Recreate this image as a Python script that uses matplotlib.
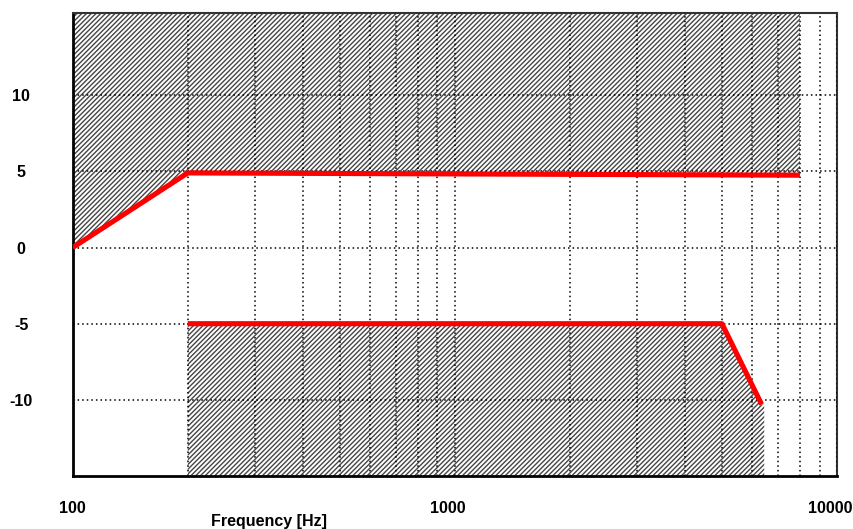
import matplotlib
matplotlib.use('Agg')
import matplotlib.pyplot as plt
import matplotlib.transforms as mtransforms

# limite superior (linea roja de arriba)
upper_freq = [100, 200, 8000]
upper_db = [0, 4.9, 4.75]
# limite inferior (linea roja de abajo)
lower_freq = [200, 5000, 6350]
lower_db = [-5, -5, -10.3]
# borde derecho de la zona rayada inferior
lower_hatch_end = 6450

y_ticks = [10, 5, 0, -5, -10]
x_ticks = [100, 1000, 10000]
x_tick_labels = ['100', '1000', '10000']

plt.rcParams['font.family'] = ['Liberation Sans', 'DejaVu Sans']
plt.rcParams['hatch.linewidth'] = 1.0
plt.rcParams['hatch.color'] = '#454545'

fig = plt.figure(figsize=(8.54, 5.29), dpi=100)
ax = fig.add_axes([72.7 / 854, 1 - 476 / 529, (837 - 72.7) / 854, (476 - 13) / 529])

ax.set_xscale('log')
ax.set_xlim(100, 10000)
ax.set_ylim(-15, 15.4)

y_top = ax.get_ylim()[1]
y_bot = ax.get_ylim()[0]

# zona rayada superior
ax.fill(upper_freq + [upper_freq[-1], upper_freq[0]],
        upper_db + [y_top, y_top],
        facecolor='white', edgecolor='#454545', hatch='///////', linewidth=0, zorder=1)
# zona rayada inferior
ax.fill(lower_freq + [lower_hatch_end, lower_hatch_end, lower_freq[0]],
        lower_db + [lower_db[-1], y_bot, y_bot],
        facecolor='white', edgecolor='#454545', hatch='///////', linewidth=0, zorder=1)

ax.plot(upper_freq, upper_db, color='#ff0000', linewidth=3.7, solid_capstyle='butt', zorder=4)
ax.plot(lower_freq, lower_db, color='#ff0000', linewidth=3.7, solid_capstyle='butt', zorder=4)

# rejilla punteada
ax.set_axisbelow(False)
ax.grid(True, which='both', axis='x', color='black', linestyle=(0, (1, 2)), linewidth=1.1, zorder=2.5)
ax.grid(True, which='major', axis='y', color='black', linestyle=(0, (1, 2)), linewidth=1.1, zorder=2.5)

ax.set_yticks(y_ticks)
ax.set_yticklabels([str(v) for v in y_ticks], fontsize=11.5, fontweight='bold', ha='center')
ax.set_xticks(x_ticks)
ax.set_xticklabels(x_tick_labels, fontsize=11.5, fontweight='bold')
ax.xaxis.set_minor_formatter(plt.NullFormatter())
ax.tick_params(axis='both', which='both', length=0)
ax.tick_params(axis='y', pad=37)
ax.tick_params(axis='x', pad=18)

# etiquetas del eje x algo desplazadas a la izquierda como en el original
for i, lab in enumerate(ax.get_xticklabels()):
    if i > 0:
        lab.set_transform(lab.get_transform() + mtransforms.ScaledTranslation(-7 / 100, 0, fig.dpi_scale_trans))

for side in ['top', 'right']:
    ax.spines[side].set_linewidth(1.5)
    ax.spines[side].set_color('#333333')
for side in ['left', 'bottom']:
    ax.spines[side].set_linewidth(2)
    ax.spines[side].set_color('black')

fig.text(269 / 854, 1 - 521.5 / 529, 'Frequency [Hz]', fontsize=11.5, fontweight='bold',
         ha='center', va='center')

fig.savefig('out.png', dpi=100)
